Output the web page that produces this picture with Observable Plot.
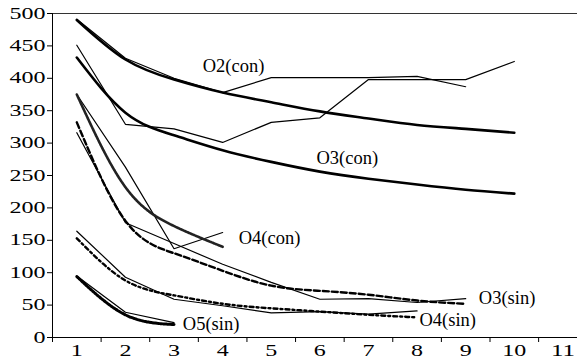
<!DOCTYPE html>
<html>
<head>
<meta charset="utf-8">
<script src="https://cdn.jsdelivr.net/npm/d3@7"></script>
<script src="https://cdn.jsdelivr.net/npm/@observablehq/plot@0.6"></script>
<style>
  html, body { margin: 0; padding: 0; background: #fff; }
  svg, svg text { font-family: "Liberation Serif", "Times New Roman", serif !important; }
</style>
</head>
<body>
<div id="chart"></div>
<script>
// ---- data ----
const xTicks = [1, 2, 3, 4, 5, 6, 7, 8, 9, 10, 11];
const xBounds = [0.5, 1.5, 2.5, 3.5, 4.5, 5.5, 6.5, 7.5, 8.5, 9.5, 10.5];
const yTicks = [0, 50, 100, 150, 200, 250, 300, 350, 400, 450, 500];

const o2ConFit = [490, 429, 398, 378, 363, 349, 338, 328, 322, 316];
const o2ConObs = [491, 431, 400, 378, 401, 401, 401, 403, 387];
const o3ConFit = [432, 347, 312, 289, 271, 256, 245, 236, 228, 222];
const o3ConObs = [451, 329, 322, 301, 332, 339, 398, 398, 398, 426];
const o4ConFit = [375, 232, 172, 140];
const o4ConObs = [375, 263, 137, 162];
const o3SinFit = [332, 180, 130, 103, 80, 72, 66, 57, 52];
const o3SinObs = [316, 177, 145, 113, 85, 59, 60, 54, 60];
const o4SinFit = [153, 88, 65, 52, 45, 40, 35, 31];
const o4SinObs = [164, 93, 59, 49, 38, 40, 36, 41];
const o5SinFit = [94, 35, 20];
const o5SinObs = [95, 39, 23];

const labelText = ["O2(con)", "O3(con)", "O4(con)", "O3(sin)", "O4(sin)", "O5(sin)"];
const labelX = [3.59, 5.93, 4.33, 9.27, 8.05, 3.18];
const labelY = [410, 268, 144, 52, 18, 12];

// ---- helpers ----
const rows = arr => arr.map((v, i) => ({x: i + 1, y: v}));
const labels = labelText.map((t, i) => ({t, x: labelX[i], y: labelY[i]}));
const font = "Liberation Serif, Times New Roman, serif";

const fitThick = {x: "x", y: "y", stroke: "#000", strokeWidth: 2.6, curve: "natural"};
const obsThin = {x: "x", y: "y", stroke: "#000", strokeWidth: 1.2};

const plot = Plot.plot({
  width: 577,
  height: 360,
  marginLeft: 52,
  marginRight: 0,
  marginTop: 13,
  marginBottom: 23,
  x: {domain: [0.5, 11.3]},
  y: {domain: [0, 500]},
  style: {fontFamily: font, background: "#fff", color: "#000", overflow: "visible"},
  marks: [
    Plot.ruleY([500], {stroke: "#333", strokeWidth: 1}),
    Plot.ruleY([0], {stroke: "#000", strokeWidth: 1}),
    Plot.ruleX([0.5], {stroke: "#000", strokeWidth: 1}),
    Plot.axisY({ticks: yTicks, tickSize: 5, tickPadding: 2, fontSize: 16, label: null, stroke: "#000", fill: "#000"}),
    Plot.axisX({ticks: xBounds, tickSize: 5, tickFormat: () => "", label: null, stroke: "#000"}),
    Plot.axisX({ticks: xTicks, tickSize: 0, tickPadding: 7.5, fontSize: 16, label: null, fill: "#000"}),

    Plot.line(rows(o2ConObs), obsThin),
    Plot.line(rows(o3ConObs), obsThin),
    Plot.line(rows(o4ConObs), obsThin),
    Plot.line(rows(o3SinObs), obsThin),
    Plot.line(rows(o4SinObs), obsThin),
    Plot.line(rows(o5SinObs), obsThin),

    Plot.line(rows(o2ConFit), fitThick),
    Plot.line(rows(o3ConFit), fitThick),
    Plot.line(rows(o4ConFit), {...fitThick, stroke: "#222", strokeDasharray: "1.6,0.5"}),
    Plot.line(rows(o3SinFit), {...fitThick, strokeWidth: 2.4, strokeDasharray: "6,3"}),
    Plot.line(rows(o4SinFit), {...fitThick, strokeWidth: 2.4, strokeDasharray: "4,3,2,3"}),
    Plot.line(rows(o5SinFit), {...fitThick, strokeWidth: 3, strokeDasharray: "2,1"}),

    Plot.text(labels, {x: "x", y: "y", text: "t", textAnchor: "start", lineAnchor: "bottom",
      fontSize: 18.5, fill: "#000"})
  ]
});

d3.select(plot)
  .selectAll('g[aria-label="y-axis tick label"] text, g[aria-label="x-axis tick label"] text')
  .each(function () {
    const t = this.textContent;
    if (t && t.length) {
      this.setAttribute("textLength", t.length * 12);
      this.setAttribute("lengthAdjust", "spacingAndGlyphs");
    }
  });

document.getElementById("chart").appendChild(plot);
</script>
</body>
</html>
